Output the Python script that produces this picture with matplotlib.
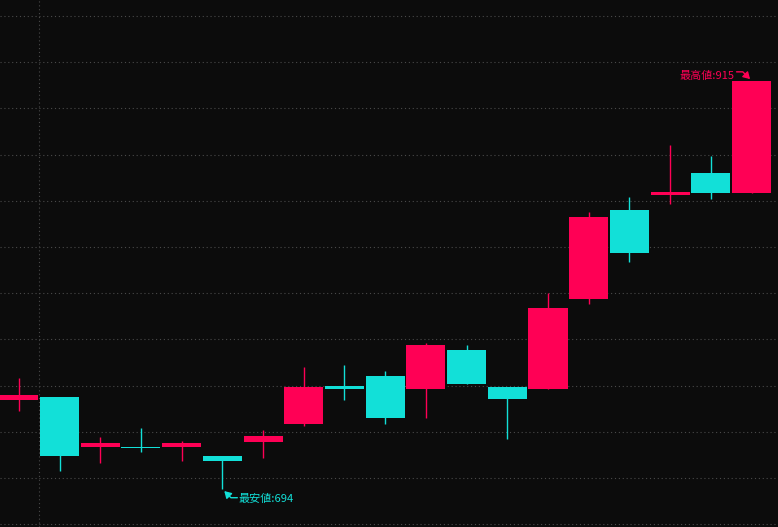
import matplotlib
matplotlib.use('Agg')
from matplotlib import pyplot as plt

plt.rcParams['font.family'] = ['Noto Sans CJK JP', 'DejaVu Sans']

# OHLC values, one entry per candle
opens = [742, 744, 717, 717, 717, 712, 719.5, 729, 750, 755, 748, 769, 749, 748, 797, 845, 853, 865, 854]
highs = [754, 744, 722, 727, 720, 712, 726, 760, 761, 758, 773, 772, 749, 800, 844, 852, 880, 874, 915]
lows = [736, 704, 708, 714, 709, 694, 711, 728, 742, 729, 732.5, 751, 721, 748, 794, 817, 848, 851, 854]
closes = [745, 712, 719, 716, 719, 709, 723, 749, 748, 732.5, 772, 751, 743, 792, 841, 822, 855, 854, 915]

grid_levels = [675, 700, 725, 750, 775, 800, 825, 850, 875, 900, 925, 950]
separator_x = 0.5
hi_label = '最高値:915'
lo_label = '最安値:694'

up_col = '#ff0055'
down_col = '#12e0d8'
bg = '#0c0c0c'

fig = plt.figure(figsize=(7.78, 5.27), dpi=100, facecolor=bg)
ax = fig.add_axes([0, 0, 1, 1], facecolor=bg)

# grid lines (dotted)
for g in grid_levels:
    ax.axhline(g, color='#4a4a4a', lw=0.8, ls=(0, (1, 2.5)), zorder=0)
ax.axvline(separator_x, color='#4a4a4a', lw=0.8, ls=(0, (1, 2.5)), zorder=0)

# candles
for i in range(len(opens)):
    o, h, l, c = opens[i], highs[i], lows[i], closes[i]
    col = up_col if c >= o else down_col
    ax.vlines(i, l, h, color=col, lw=1.0, zorder=2)
    ax.bar(i, abs(c - o), bottom=min(o, c), width=0.96, color=col,
           edgecolor='none', zorder=3)

# highest / lowest markers
hi_i = highs.index(max(highs))
lo_i = lows.index(min(lows))

ax.annotate('', xy=(hi_i, highs[hi_i]), xytext=(-10.8, 6.3), textcoords='offset points',
            arrowprops=dict(arrowstyle='-|>,head_length=0.5,head_width=0.3', color=up_col,
                            lw=1, mutation_scale=8, shrinkA=0, shrinkB=1.5,
                            connectionstyle='angle,angleA=0,angleB=135,rad=0'))
ax.annotate(hi_label, xy=(hi_i, highs[hi_i]), xytext=(-12.5, 3.5), textcoords='offset points',
            ha='right', va='center', color=up_col, fontsize=8)

ax.annotate('', xy=(lo_i, lows[lo_i]), xytext=(10.8, -6.2), textcoords='offset points',
            arrowprops=dict(arrowstyle='-|>,head_length=0.5,head_width=0.3', color=down_col,
                            lw=1, mutation_scale=8, shrinkA=0, shrinkB=2,
                            connectionstyle='angle,angleA=0,angleB=135,rad=0'))
ax.annotate(lo_label, xy=(lo_i, lows[lo_i]), xytext=(11.5, -7), textcoords='offset points',
            ha='left', va='center', color=down_col, fontsize=8)

ax.set_xlim(-0.462, 18.65)
ax.set_ylim(673.5, 958.6)
for s in ax.spines.values():
    s.set_visible(False)
ax.set_xticks([])
ax.set_yticks([])

plt.savefig('out.png', dpi=100, facecolor=bg)
